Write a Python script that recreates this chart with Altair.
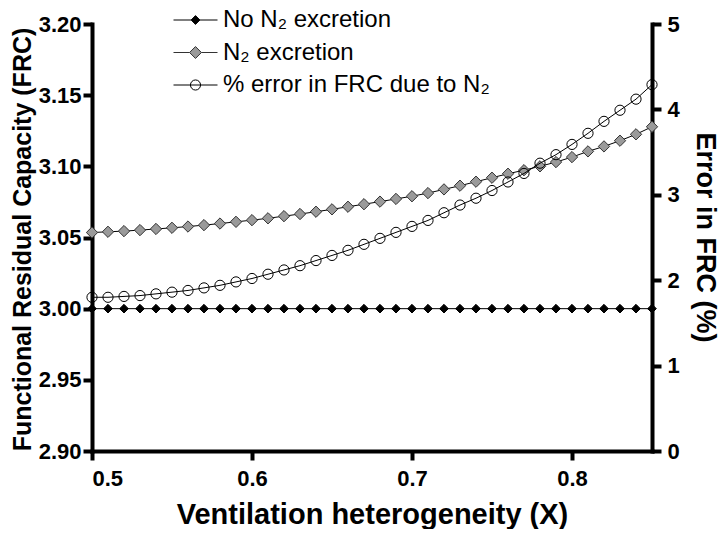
import altair as alt
import pandas as pd

# ---- data ----
x_vals = [0.50, 0.51, 0.52, 0.53, 0.54, 0.55, 0.56, 0.57, 0.58, 0.59,
          0.60, 0.61, 0.62, 0.63, 0.64, 0.65, 0.66, 0.67, 0.68, 0.69,
          0.70, 0.71, 0.72, 0.73, 0.74, 0.75, 0.76, 0.77, 0.78, 0.79,
          0.80, 0.81, 0.82, 0.83, 0.84, 0.85]

no_n2 = [3.000, 3.000, 3.000, 3.000, 3.000, 3.000, 3.000, 3.000, 3.000, 3.000,
         3.000, 3.000, 3.000, 3.000, 3.000, 3.000, 3.000, 3.000, 3.000, 3.000,
         3.000, 3.000, 3.000, 3.000, 3.000, 3.000, 3.000, 3.000, 3.000, 3.000,
         3.000, 3.000, 3.000, 3.000, 3.000, 3.000]

n2_excr = [3.0535, 3.0540, 3.0545, 3.0552, 3.0560, 3.0568, 3.0577, 3.0587, 3.0598, 3.0610,
           3.0622, 3.0635, 3.0650, 3.0665, 3.0681, 3.0698, 3.0716, 3.0734, 3.0752, 3.0771,
           3.0790, 3.0812, 3.0838, 3.0864, 3.0892, 3.0920, 3.0948, 3.0973, 3.1000, 3.1030,
           3.1065, 3.1105, 3.1140, 3.1180, 3.1225, 3.1278]

err_pct = [1.80, 1.80, 1.81, 1.82, 1.84, 1.86, 1.88, 1.91, 1.94, 1.98,
           2.02, 2.07, 2.12, 2.17, 2.23, 2.29, 2.35, 2.42, 2.49, 2.56,
           2.63, 2.70, 2.79, 2.88, 2.96, 3.05, 3.15, 3.25, 3.37, 3.47,
           3.59, 3.72, 3.86, 3.99, 4.12, 4.29]

series_labels = ["No N\u2082 excretion", "N\u2082 excretion", "% error in FRC due to N\u2082"]

x_ticks = [0.5, 0.6, 0.7, 0.8]
left_ticks = [2.90, 2.95, 3.00, 3.05, 3.10, 3.15, 3.20]
right_ticks = [0, 1, 2, 3, 4, 5]

df = pd.DataFrame({"x": x_vals, "no_n2": no_n2, "n2": n2_excr, "err": err_pct})
legend_df = pd.DataFrame({"series": series_labels})

FONT = "Liberation Sans"
GRAY = "#9a9a9a"

x_enc = alt.X("x:Q",
              scale=alt.Scale(domain=[0.5, 0.85], nice=False, zero=False),
              axis=alt.Axis(values=x_ticks, format=".1f",
                            title="Ventilation heterogeneity (X)",
                            titleFontSize=29, titleBaseline="alphabetic",
                            titleY=72, labelPadding=8))

left_scale = alt.Scale(domain=[2.9, 3.2], nice=False, zero=False)
left_axis = alt.Axis(values=left_ticks, format=".2f",
                     title="Functional Residual Capacity (FRC)",
                     titleFontSize=25, titleAngle=-90, titleAlign="center",
                     titleBaseline="alphabetic", titleX=-62, titleY=215,
                     labelPadding=2)

right_scale = alt.Scale(domain=[0, 5], nice=False, zero=False)
right_axis = alt.Axis(values=right_ticks, format="d", orient="right",
                      title="Error in FRC (%)",
                      titleFontSize=27, titleAngle=90, titleAlign="center",
                      titleBaseline="alphabetic", titleX=44, titleY=213,
                      labelPadding=6)

base = alt.Chart(df)

y_no = alt.Y("no_n2:Q", scale=left_scale, axis=left_axis)
y_n2 = alt.Y("n2:Q", scale=left_scale, axis=left_axis)

line_no = base.mark_line(color="black", strokeWidth=1).encode(x=x_enc, y=y_no)
pts_no = base.mark_point(shape="diamond", filled=True, fill="black", stroke="black",
                         strokeWidth=1, size=75, opacity=1).encode(x=x_enc, y=y_no)
line_n2 = base.mark_line(color="black", strokeWidth=1).encode(x=x_enc, y=y_n2)
pts_n2 = base.mark_point(shape="diamond", filled=True, fill=GRAY, stroke="#333333",
                         strokeWidth=1, size=128, opacity=1).encode(x=x_enc, y=y_n2)

left = alt.layer(line_no, pts_no, line_n2, pts_n2)

y_err = alt.Y("err:Q", scale=right_scale, axis=right_axis)
line_err = base.mark_line(color="black", strokeWidth=1).encode(x=x_enc, y=y_err)
pts_err = base.mark_point(shape="circle", filled=False, stroke="black",
                          strokeWidth=1, size=104, opacity=1).encode(x=x_enc, y=y_err)

# legend-only layer (zero-size marks), symbols drawn as line+marker paths
paths = [
    "M-1,0H-0.2M0.2,0H1M-0.2,0L0,-0.2L0.2,0L0,0.2Z",
    "M-1,0H-0.27M0.27,0H1M-0.27,0L0,-0.27L0.27,0L0,0.27Z",
    "M-1,0H1M0.23,0A0.23,0.23,0,1,1,-0.23,0A0.23,0.23,0,1,1,0.23,0Z",
]
leg = alt.Legend(title=None, orient="none", legendX=81, legendY=-19,
                 symbolSize=1936, symbolStrokeColor="black", symbolFillColor="white",
                 symbolStrokeWidth=1,
                 symbolOpacity=1, labelFont=FONT, labelFontSize=24,
                 labelFontWeight="normal", labelColor="black", labelOffset=5,
                 labelLimit=500, clipHeight=30, rowPadding=2.5, padding=0)
legend_layer = alt.Chart(legend_df).mark_point(filled=True, size=0).encode(
    fill=alt.Fill("series:N", sort=series_labels,
                  scale=alt.Scale(domain=series_labels, range=["black", GRAY, "transparent"]),
                  legend=leg),
    stroke=alt.Stroke("series:N", sort=series_labels,
                      scale=alt.Scale(domain=series_labels, range=["black", "#333333", "black"]),
                      legend=leg),
    shape=alt.Shape("series:N", sort=series_labels,
                    scale=alt.Scale(domain=series_labels, range=paths),
                    legend=leg),
)

right = alt.layer(line_err, pts_err, legend_layer)

chart = alt.layer(left, right).resolve_scale(y="independent").properties(
    width=560, height=427,
    autosize=alt.AutoSizeParams(type="none"),
    padding={"left": 84, "top": 16, "right": 68, "bottom": 78},
).configure_view(stroke=None).configure_axis(
    grid=False,
    domainColor="black", domainWidth=4, domainCap="square",
    tickColor="black", tickWidth=4, tickSize=9,
    labelFont=FONT, labelFontSize=22, labelFontWeight="bold", labelColor="black",
    titleFont=FONT, titleFontWeight="bold", titleColor="black",
)

chart.save("out.html", embed_options={"renderer": "svg", "actions": False})
